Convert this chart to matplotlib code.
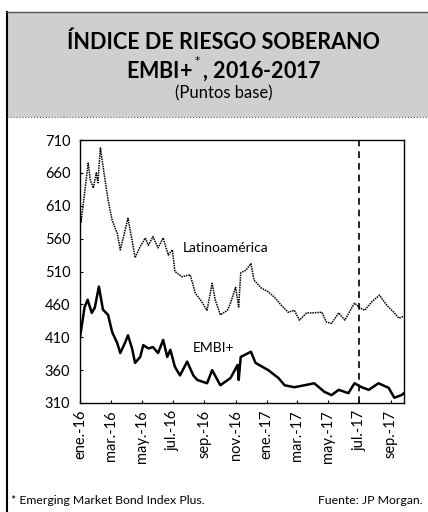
import matplotlib.pyplot as plt
import pandas as pd
from matplotlib.patches import Rectangle
from matplotlib.lines import Line2D

plt.rcParams['font.family'] = ['Lato', 'DejaVu Sans']

# Latinoamérica (puntos base)
fechas_lat = ['2016-01-01', '2016-01-03', '2016-01-07', '2016-01-14', '2016-01-17', '2016-01-21',
              '2016-01-27', '2016-02-02', '2016-02-05', '2016-02-10', '2016-02-17', '2016-02-25',
              '2016-03-04', '2016-03-14', '2016-03-20', '2016-03-26', '2016-04-04', '2016-04-12',
              '2016-04-18', '2016-04-28', '2016-05-08', '2016-05-14', '2016-05-23', '2016-06-02',
              '2016-06-12', '2016-06-22', '2016-06-30', '2016-07-05', '2016-07-19', '2016-08-04',
              '2016-08-14', '2016-08-24', '2016-09-06', '2016-09-16', '2016-09-22', '2016-10-02',
              '2016-10-16', '2016-10-22', '2016-11-01', '2016-11-07', '2016-11-11', '2016-11-21',
              '2016-12-01', '2016-12-07', '2016-12-21', '2017-01-04', '2017-01-16', '2017-01-29',
              '2017-02-12', '2017-02-24', '2017-03-06', '2017-03-20', '2017-03-30', '2017-04-19',
              '2017-04-28', '2017-05-08', '2017-05-22', '2017-06-03', '2017-06-22', '2017-07-02',
              '2017-07-12', '2017-07-26', '2017-08-10', '2017-08-24', '2017-09-07', '2017-09-17',
              '2017-09-27']
valores_lat = [600, 585, 610, 655, 675, 650,
               637, 660, 645, 698, 660, 619,
               588, 568, 543, 562, 591, 558,
               531, 548, 561, 550, 563, 546,
               561, 535, 543, 510, 502, 505,
               477, 467, 451, 492, 467, 444,
               451, 462, 486, 456, 508, 512,
               522, 497, 485, 479, 471, 459,
               448, 451, 436, 447, 447, 448,
               433, 431, 447, 436, 462, 455,
               451, 464, 474, 459, 448, 439,
               442]

# EMBI+ (puntos base)
fechas_embi = ['2016-01-01', '2016-01-05', '2016-01-10', '2016-01-16', '2016-01-24', '2016-01-30',
               '2016-02-07', '2016-02-15', '2016-02-25', '2016-03-04', '2016-03-14', '2016-03-20',
               '2016-03-30', '2016-04-04', '2016-04-12', '2016-04-18', '2016-04-28', '2016-05-04',
               '2016-05-14', '2016-05-23', '2016-06-02', '2016-06-12', '2016-06-20', '2016-06-26',
               '2016-07-05', '2016-07-15', '2016-07-29', '2016-08-10', '2016-08-18', '2016-09-06',
               '2016-09-16', '2016-10-02', '2016-10-22', '2016-11-05', '2016-11-07', '2016-11-11',
               '2016-12-01', '2016-12-10', '2017-01-04', '2017-01-24', '2017-02-05', '2017-02-24',
               '2017-03-16', '2017-04-04', '2017-04-24', '2017-05-08', '2017-05-22', '2017-06-10',
               '2017-06-22', '2017-07-06', '2017-07-20', '2017-08-08', '2017-08-28', '2017-09-08',
               '2017-09-22', '2017-09-27']
valores_embi = [410, 430, 456, 467, 447, 455,
                487, 452, 444, 418, 401, 386,
                403, 413, 393, 371, 380, 398,
                393, 395, 386, 406, 380, 391,
                365, 352, 373, 352, 345, 340,
                360, 337, 348, 368, 345, 380,
                388, 371, 360, 348, 337, 334,
                337, 340, 327, 322, 330, 325,
                340, 334, 330, 340, 333, 318,
                322, 325]

meses = ['ene.-16', 'mar.-16', 'may.-16', 'jul.-16', 'sep.-16', 'nov.-16',
         'ene.-17', 'mar.-17', 'may.-17', 'jul.-17', 'sep.-17']
fechas_meses = pd.date_range('2016-01-01', periods=11, freq='2MS')

lat = pd.Series(valores_lat, index=pd.to_datetime(fechas_lat))
embi = pd.Series(valores_embi, index=pd.to_datetime(fechas_embi))

fig = plt.figure(figsize=(4.28, 5.12), dpi=100)

# Encabezado con fondo gris
fig.patches.append(Rectangle((7 / 428, 1 - 117 / 512), 421 / 428, 105 / 512,
                             transform=fig.transFigure, facecolor='#cfcfcf',
                             edgecolor='none', zorder=0))
fig.lines.append(Line2D([7 / 428, 7 / 428], [0, 1 - 12 / 512], transform=fig.transFigure,
                        color='black', lw=1.5))
fig.lines.append(Line2D([7 / 428, 1], [1 - 12 / 512, 1 - 12 / 512], transform=fig.transFigure,
                        color='#555555', lw=1))
fig.lines.append(Line2D([7 / 428, 1], [1 - 117 / 512, 1 - 117 / 512], transform=fig.transFigure,
                        color='#555555', lw=0.8, ls=':'))

fig.text(224 / 428, 1 - 42 / 512, 'ÍNDICE DE RIESGO SOBERANO', ha='center', va='center',
         fontsize=15.5, fontweight='bold')
fig.text(224 / 428, 1 - 69 / 512, 'EMBI+$^{^*}$, 2016-2017', ha='center', va='center',
         fontsize=15.5, fontweight='bold')
fig.text(224 / 428, 1 - 93 / 512, '(Puntos base)', ha='center', va='center', fontsize=12)

ax = fig.add_axes([80 / 428, 1 - 403 / 512, 324 / 428, 263 / 512])
ax.plot(lat.index, lat.values, color='black', lw=1.1, ls=(0, (1, 0.6)))
ax.plot(embi.index, embi.values, color='black', lw=1.8)
ax.axvline(pd.Timestamp('2017-07-01'), color='black', lw=1.2, ls=(0, (4, 3)))

ax.set_ylim(310, 710)
ax.set_yticks(range(310, 711, 50))
ax.set_xlim(pd.Timestamp('2016-01-01'), pd.Timestamp('2017-09-27'))
ax.set_xticks(fechas_meses)
ax.set_xticklabels(meses, rotation=90)
ax.tick_params(axis='both', labelsize=10.5, length=2, direction='in')
ax.tick_params(axis='y', pad=7)
ax.tick_params(axis='x', pad=5)
for s in ax.spines.values():
    s.set_linewidth(1)

ax.text(pd.Timestamp('2016-07-20'), 545, 'Latinoamérica', fontsize=10, va='center')
ax.text(pd.Timestamp('2016-08-08'), 393, 'EMBI+', fontsize=10, va='center')

fig.text(11 / 428, 1 - 500 / 512, '* Emerging Market Bond Index Plus.', fontsize=8.8, va='center')
fig.text(423 / 428, 1 - 500 / 512, 'Fuente: JP Morgan.', fontsize=8.8, va='center', ha='right')

fig.savefig('out.png', dpi=100)
